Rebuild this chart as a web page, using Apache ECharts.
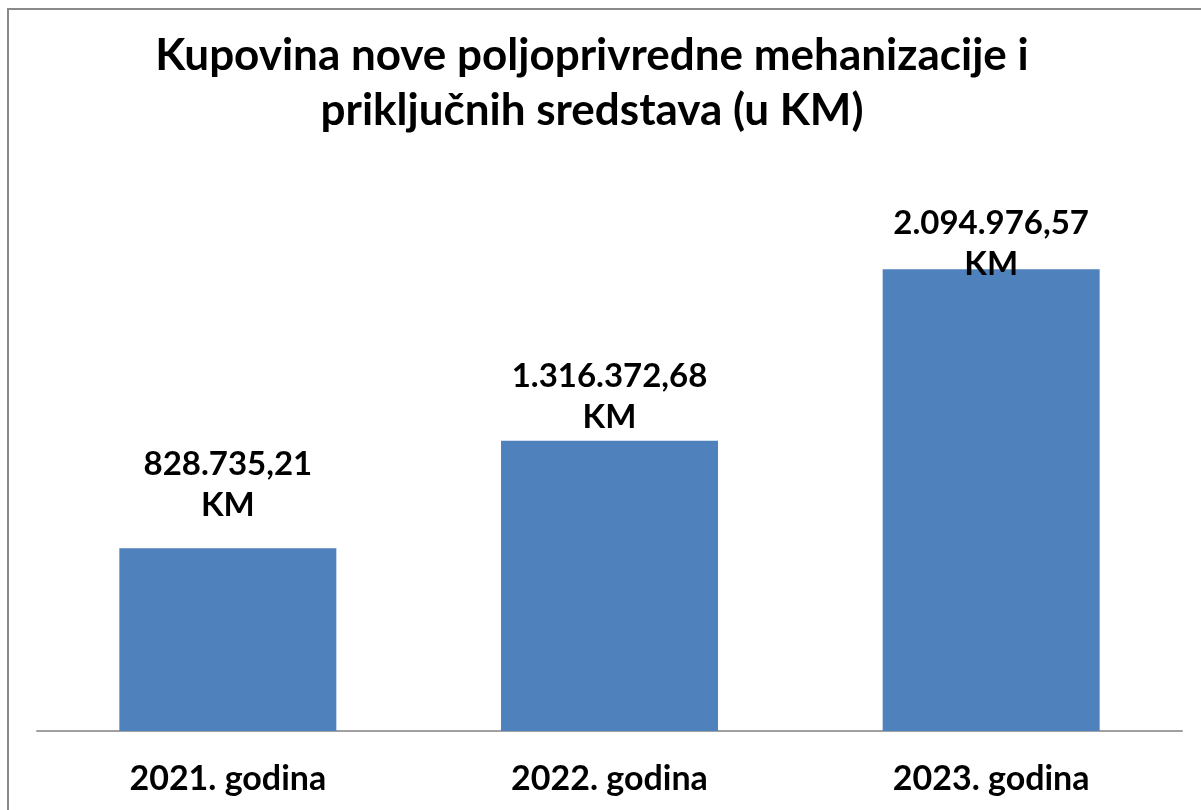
<!DOCTYPE html>
<html>
<head>
<meta charset="utf-8">
<script src="https://cdn.jsdelivr.net/npm/echarts@6/dist/echarts.min.js"></script>
<style>
  html, body { margin: 0; padding: 0; background: #fff; }
  #main { width: 1201px; height: 810px; }
</style>
</head>
<body>
<div id="main"></div>
<script>
// podaci
const years = ['2021. godina', '2022. godina', '2023. godina'];
const amounts = [828735.21, 1316372.68, 2094976.57];
const titleLines = ['Kupovina nove poljoprivredne mehanizacije i', 'priključnih sredstava (u KM)'];

const FONT = 'Lato, "Open Sans", sans-serif';

// 1234567.89 -> "1.234.567,89"
function fmtKM(v) {
    const parts = v.toFixed(2).split('.');
    const whole = parts[0].replace(/\B(?=(\d{3})+(?!\d))/g, '.');
    return whole + ',' + parts[1] + '\nKM';
}

// Excel je labele postavio malo drugacije za svaki stupac
const labelShift = [-22, -3, 16];

const chart = echarts.init(document.getElementById('main'));
chart.setOption({
    backgroundColor: '#fff',
    animation: false,
    title: {
        text: titleLines.join('\n'),
        left: 587,
        top: 23,
        textAlign: 'center',
        textStyle: {
            fontFamily: FONT,
            fontWeight: 'bold',
            fontSize: 44,
            lineHeight: 55,
            color: '#000'
        }
    },
    graphic: [{
        type: 'rect',
        shape: {x: 8, y: 9, width: 1300, height: 900},
        style: {fill: null, stroke: '#8a8a8a', lineWidth: 2},
        silent: true
    }],
    grid: {left: 37, right: 19, top: 180, bottom: 79},
    xAxis: {
        type: 'category',
        data: years,
        axisTick: {show: false},
        axisLine: {lineStyle: {color: '#a0a0a0', width: 2}},
        axisLabel: {
            margin: 31,
            fontFamily: FONT,
            fontWeight: 'bold',
            fontSize: 34,
            color: '#000'
        }
    },
    yAxis: {
        type: 'value',
        min: 0,
        max: 2500000,
        show: false,
        splitLine: {show: false}
    },
    series: [{
        type: 'bar',
        barWidth: 217,
        itemStyle: {color: '#4f81bd'},
        data: amounts.map((v, i) => ({
            value: v,
            label: {offset: [0, labelShift[i]]}
        })),
        label: {
            show: true,
            position: 'top',
            distance: 0,
            formatter: p => fmtKM(p.value),
            fontFamily: FONT,
            fontWeight: 'bold',
            fontSize: 33,
            lineHeight: 41,
            color: '#000'
        }
    }]
});
</script>
</body>
</html>
